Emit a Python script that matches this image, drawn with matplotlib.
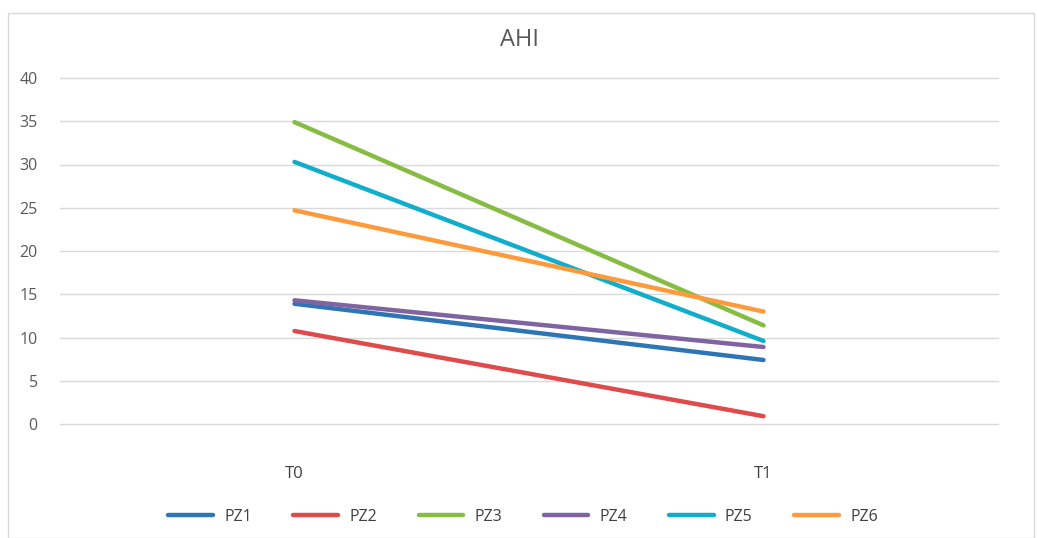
import matplotlib
matplotlib.use("Agg")
import matplotlib.pyplot as plt
from matplotlib.patches import Rectangle

plt.rcParams['font.family'] = ['Open Sans', 'DejaVu Sans']

categories = ["T0", "T1"]
series_names = ["PZ1", "PZ2", "PZ3", "PZ4", "PZ5", "PZ6"]
pz1 = [13.9, 7.4]
pz2 = [10.75, 0.9]
pz3 = [34.9, 11.4]
pz4 = [14.3, 8.9]
pz5 = [30.3, 9.6]
pz6 = [24.7, 13.0]
yticks = [0, 5, 10, 15, 20, 25, 30, 35, 40]

series = [pz1, pz2, pz3, pz4, pz5, pz6]
colors = ["#2E75B6", "#E04A4A", "#86BC42", "#8064A2", "#10AECB", "#FF9A3C"]

W, H = 1037, 538
fig = plt.figure(figsize=(W / 100, H / 100), dpi=100)
fig.patches.append(Rectangle((8 / W, 0), (1034 - 8) / W, 1 - 13 / H,
                             transform=fig.transFigure, fill=False,
                             edgecolor="#d9d9d9", linewidth=1))
ax = fig.add_axes([60 / W, 1 - 424 / H, (998 - 60) / W, (424 - 78) / H])

x = list(range(len(categories)))
for name, vals, c in zip(series_names, series, colors):
    ax.plot(x, vals, color=c, linewidth=3.2, solid_capstyle="round", label=name)

ax.set_xlim(-0.5, len(categories) - 0.5)
ax.set_ylim(0, 40)
ax.set_yticks(yticks)
ax.set_yticklabels([str(v) for v in yticks])
ax.set_xticks(x)
ax.set_xticklabels(categories)
ax.grid(axis="y", color="#d9d9d9", linewidth=1)
for gl in ax.get_ygridlines():
    gl.set_clip_on(False)
ax.set_axisbelow(True)
for s in ax.spines.values():
    s.set_visible(False)
ax.tick_params(axis="y", length=0, pad=16, labelsize=11.5, labelcolor="#595959")
ax.tick_params(axis="x", length=0, pad=30, labelsize=12, labelcolor="#404040")
for lbl in ax.get_yticklabels():
    lbl.set_horizontalalignment("right")

fig.text(520 / W, 1 - 40 / H, "AHI", ha="center", va="center",
         fontsize=17, color="#595959")

leg = fig.legend(loc="center", bbox_to_anchor=(523 / W, 1 - 517 / H), ncol=6,
                 frameon=False, fontsize=11.5, handlelength=2.8,
                 columnspacing=2.6, handletextpad=0.7)
for t in leg.get_texts():
    t.set_color("#404040")

fig.savefig("out.png", dpi=100)
